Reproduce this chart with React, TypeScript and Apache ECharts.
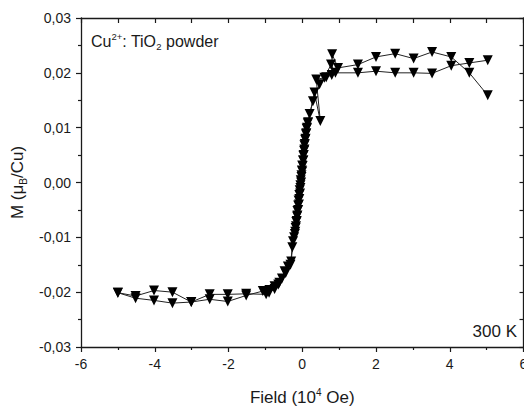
import React, { useEffect, useRef } from "react";
import * as echarts from "echarts";

const fieldDown = [
  5.03, 4.53, 4.04, 3.52, 3.02, 2.52, 2.0, 1.51, 0.97, 0.81, 0.8, 0.65, 0.47, 0.29, 0.2, 0.15,
  0.12, 0.1, 0.08, 0.06, 0.05, 0.03, 0.02, 0.0, -0.01, -0.02, -0.04, -0.05, -0.07, -0.08, -0.1,
  -0.11, -0.13, -0.14, -0.16, -0.18, -0.2, -0.25, -0.3, -0.39, -0.48, -0.62, -0.75, -0.89, -0.98,
  -1.52, -2.02, -2.51, -3.01, -3.52, -4.02, -4.52, -5.0,
];
const mDown = [
  0.0159, 0.02, 0.0229, 0.0238, 0.0226, 0.0235, 0.0229, 0.0215, 0.0209, 0.0234, 0.0196, 0.0192,
  0.0179, 0.0148, 0.0125, 0.0108, 0.0098, 0.0088, 0.0078, 0.0068, 0.0058, 0.0049, 0.004, 0.0031,
  0.0022, 0.0013, 0.0004, -0.0005, -0.0014, -0.0023, -0.0033, -0.0042, -0.0052, -0.0062, -0.0072,
  -0.0083, -0.0094, -0.0107, -0.0144, -0.0153, -0.0162, -0.0183, -0.0189, -0.0196, -0.0204,
  -0.0203, -0.0204, -0.0204, -0.0218, -0.02, -0.0197, -0.0207, -0.0201,
];
const fieldUp = [
  -5.0, -4.52, -4.02, -3.52, -3.01, -2.51, -2.02, -1.52, -1.07, -0.9, -0.75, -0.65, -0.55, -0.45,
  -0.32, -0.27, -0.22, -0.19, -0.17, -0.15, -0.13, -0.11, -0.09, -0.08, -0.06, -0.05, -0.03, -0.02,
  0.0, 0.01, 0.03, 0.04, 0.06, 0.07, 0.09, 0.11, 0.13, 0.16, 0.33, 0.49, 0.38, 0.6, 0.78, 0.9,
  1.51, 2.0, 2.52, 3.02, 3.52, 4.04, 4.53, 5.03,
];
const mUp = [
  -0.0201, -0.0211, -0.0215, -0.022, -0.0218, -0.0213, -0.0217, -0.0206, -0.0198, -0.0201,
  -0.0194, -0.0186, -0.0175, -0.0165, -0.015, -0.0118, -0.01, -0.009, -0.008, -0.007, -0.006,
  -0.005, -0.004, -0.003, -0.002, -0.001, 0.0, 0.001, 0.002, 0.003, 0.004, 0.005, 0.006, 0.007,
  0.008, 0.009, 0.01, 0.011, 0.0164, 0.0112, 0.0188, 0.0191, 0.0215, 0.02, 0.02, 0.0203, 0.02,
  0.02, 0.0199, 0.0213, 0.0218, 0.0223,
];

const xTicks = [-6, -4, -2, 0, 2, 4, 6];
const yTicks = [-0.03, -0.02, -0.01, 0, 0.01, 0.02, 0.03];

const FONT = "'Liberation Sans', Arial, sans-serif";
const INK = "#1a1a1a";

export default function App() {
  const ref = useRef<HTMLDivElement>(null);
  useEffect(() => {
    if (!ref.current) return;
    const chart = echarts.init(ref.current, undefined, { renderer: "svg" });
    const seriesStyle = {
      type: "line" as const,
      symbol: "triangle",
      symbolRotate: 180,
      symbolSize: 10,
      itemStyle: { color: "#000" },
      lineStyle: { color: "#222", width: 1 },
      xAxisIndex: 0,
      yAxisIndex: 0,
      z: 5,
    };
    const axisLine = { show: true, onZero: false, lineStyle: { color: INK, width: 1.3 } };
    chart.setOption({
      animation: false,
      backgroundColor: "#fff",
      grid: { left: 81, right: 0.5, top: 18, bottom: 60, outerBoundsMode: "none", containLabel: false },
      xAxis: [
        {
          type: "value",
          min: xTicks[0],
          max: xTicks[xTicks.length - 1],
          interval: xTicks[1] - xTicks[0],
          position: "bottom",
          axisLine,
          axisTick: { show: true, length: 5, lineStyle: { color: INK, width: 1.2 } },
          minorTick: { show: true, splitNumber: 2, length: 3, lineStyle: { color: INK, width: 1.2 } },
          splitLine: { show: false },
          axisLabel: {
            margin: 10,
            fontFamily: FONT,
            fontSize: 14,
            color: INK,
            formatter: (v: number) => String(Math.round(v)),
          },
          name: "{a|Field (10}{sup|4}{a| Oe)}",
          nameLocation: "middle",
          nameGap: 40,
          nameTextStyle: {
            rich: {
              a: { fontFamily: FONT, fontSize: 17, color: INK, lineHeight: 21 },
              sup: { fontFamily: FONT, fontSize: 10, color: INK, lineHeight: 10, verticalAlign: "top" },
            },
          },
        },
        {
          type: "value",
          min: -6,
          max: 6,
          interval: 1,
          position: "top",
          axisLine,
          axisTick: { show: true, inside: true, length: 5, lineStyle: { color: INK, width: 1.2 } },
          axisLabel: { show: false },
          splitLine: { show: false },
        },
      ],
      yAxis: [
        {
          type: "value",
          min: yTicks[0],
          max: yTicks[yTicks.length - 1],
          interval: 0.01,
          position: "left",
          axisLine,
          axisTick: { show: true, length: 5, lineStyle: { color: INK, width: 1.2 } },
          minorTick: { show: true, splitNumber: 2, length: 3, lineStyle: { color: INK, width: 1.2 } },
          splitLine: { show: false },
          axisLabel: {
            margin: 10,
            fontFamily: FONT,
            fontSize: 14,
            color: INK,
            formatter: (v: number) => (Math.abs(v) < 1e-9 ? "0,00" : v.toFixed(2).replace(".", ",")),
          },
          name: "{a|M (μ}{sub|B}{a|/Cu)}",
          nameLocation: "middle",
          nameGap: 51,
          nameRotate: 90,
          nameTextStyle: {
            rich: {
              a: { fontFamily: FONT, fontSize: 17, color: INK, lineHeight: 21 },
              sub: { fontFamily: FONT, fontSize: 10, color: INK, lineHeight: 10, verticalAlign: "bottom" },
            },
          },
        },
        {
          type: "value",
          min: -0.03,
          max: 0.03,
          interval: 0.005,
          position: "right",
          axisLine,
          axisTick: { show: true, inside: true, length: 4, lineStyle: { color: INK, width: 1.2 } },
          axisLabel: { show: false },
          splitLine: { show: false },
        },
      ],
      series: [
        { ...seriesStyle, name: "down", data: fieldDown.map((x, i) => [x, mDown[i]]) },
        { ...seriesStyle, name: "up", data: fieldUp.map((x, i) => [x, mUp[i]]) },
      ],
      graphic: [
        {
          type: "text",
          x: 91,
          y: 31,
          z: 10,
          style: {
            text: "{n|Cu}{sup|2+}{n|: TiO}{sub|2}{n| powder}",
            verticalAlign: "top",
            rich: {
              n: { fontFamily: FONT, fontSize: 16, fill: INK, lineHeight: 20 },
              sup: { fontFamily: FONT, fontSize: 9.5, fill: INK, lineHeight: 10, verticalAlign: "top" },
              sub: { fontFamily: FONT, fontSize: 9.5, fill: INK, lineHeight: 10, verticalAlign: "bottom" },
            },
          },
        },
        {
          type: "text",
          x: 517,
          y: 331.5,
          z: 10,
          style: {
            text: "300 K",
            align: "right",
            verticalAlign: "middle",
            fontFamily: FONT,
            fontSize: 17,
            fill: INK,
          },
        },
      ],
    });
    return () => chart.dispose();
  }, []);
  return (
    <div
      ref={ref}
      style={{ position: "fixed", left: 0, top: 0, width: 524, height: 407, background: "#fff" }}
    />
  );
}
